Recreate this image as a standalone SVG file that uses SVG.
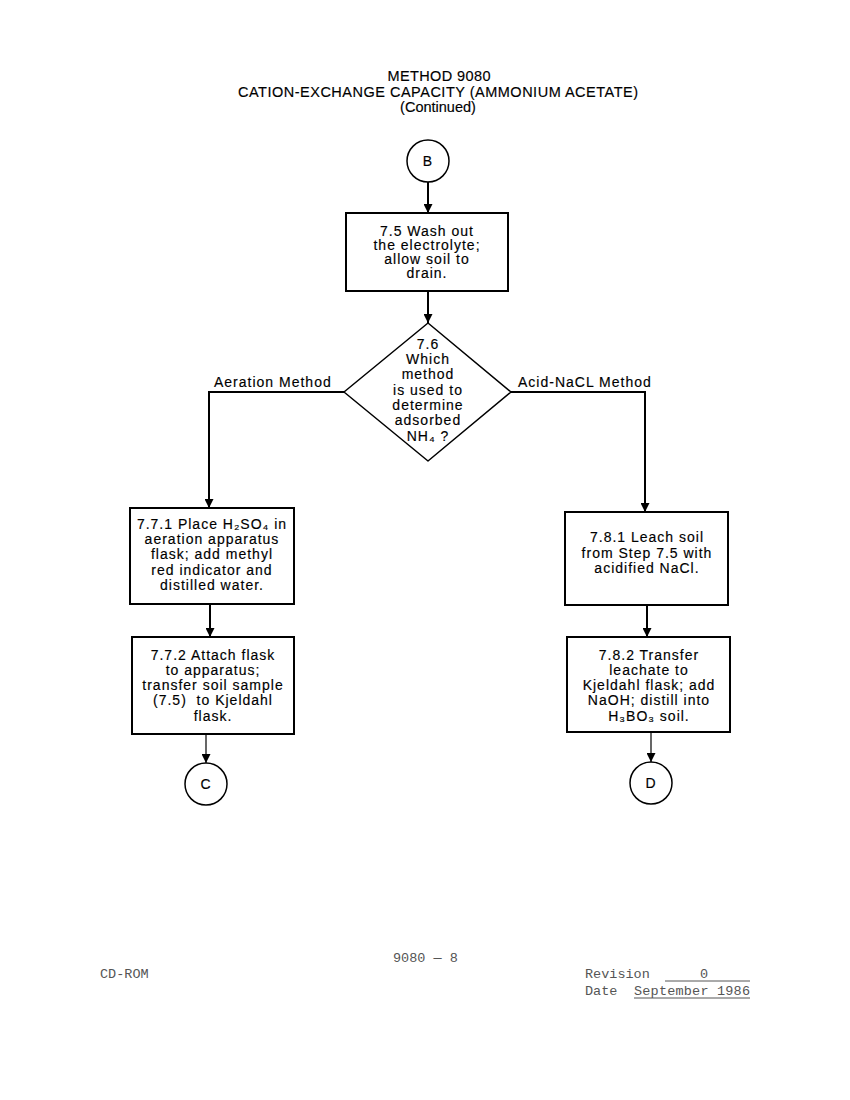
<svg xmlns="http://www.w3.org/2000/svg" width="850" height="1100" viewBox="0 0 850 1100">
<style>
.t{font-family:"Liberation Sans",Arial,"DejaVu Sans",sans-serif;font-size:14px;fill:#000;stroke:#000;stroke-width:0.15;text-anchor:middle;letter-spacing:1px}
.title{font-family:"Liberation Sans",Arial,sans-serif;font-size:14.5px;fill:#000;stroke:#000;stroke-width:0.15;text-anchor:middle}
.lbl{font-family:"Liberation Sans",Arial,sans-serif;font-size:14px;fill:#000;stroke:#000;stroke-width:0.15;letter-spacing:1px}
.box{fill:#fff;stroke:#000;stroke-width:2}
.circ{fill:#fff;stroke:#000;stroke-width:1.5}
.con{fill:none;stroke:#000;stroke-width:2}
.thin{fill:none;stroke:#000;stroke-width:1.2}
.foot{font-family:"Liberation Mono","Courier New",monospace;font-size:13.5px;fill:#555}
</style>
<defs>
<marker id="arr" viewBox="0 0 10 10" refX="10" refY="5" markerWidth="9" markerHeight="9" markerUnits="userSpaceOnUse" orient="auto">
<path d="M0,0 L10,5 L0,10 z" fill="#000"/>
</marker>
</defs>
<rect width="850" height="1100" fill="#fff"/>

<g id="title">
<text class="title" x="439" y="81" textLength="103">METHOD 9080</text>
<text class="title" x="438" y="97" textLength="400">CATION-EXCHANGE CAPACITY (AMMONIUM ACETATE)</text>
<text class="title" x="438" y="112">(Continued)</text>
</g>

<g id="connectors">
<line class="con" x1="428" y1="182" x2="428" y2="213" marker-end="url(#arr)"/>
<line class="con" x1="428" y1="291" x2="428" y2="323" marker-end="url(#arr)"/>
<polyline class="con" points="344,392 209,392 209,508" marker-end="url(#arr)"/>
<polyline class="con" points="511,392 645,392 645,512" marker-end="url(#arr)"/>
<line class="con" x1="210" y1="604" x2="210" y2="637" marker-end="url(#arr)"/>
<line class="con" x1="647" y1="605" x2="647" y2="637" marker-end="url(#arr)"/>
<line class="thin" x1="206" y1="734" x2="206" y2="763" marker-end="url(#arr)"/>
<line class="thin" x1="651" y1="732" x2="651" y2="762" marker-end="url(#arr)"/>
<text class="lbl" x="214" y="387">Aeration Method</text>
<text class="lbl" x="518" y="387">Acid-NaCL Method</text>
</g>

<g id="nodeB">
<circle class="circ" cx="428" cy="161" r="21"/>
<text class="t" x="428" y="166">B</text>
</g>

<g id="node75">
<rect class="box" x="346" y="213" width="162" height="78"/>
<text class="t" x="427" y="236">7.5 Wash out</text>
<text class="t" x="427" y="250">the electrolyte;</text>
<text class="t" x="427" y="264">allow soil to</text>
<text class="t" x="427" y="278">drain.</text>
</g>

<g id="node76">
<path d="M428,323 L511,392 L428,461 L344,392 Z" fill="#fff" stroke="#000" stroke-width="1.5" stroke-linejoin="round"/>
<text class="t" x="428" y="349">7.6</text>
<text class="t" x="428" y="364">Which</text>
<text class="t" x="428" y="379">method</text>
<text class="t" x="428" y="395">is used to</text>
<text class="t" x="428" y="410">determine</text>
<text class="t" x="428" y="425">adsorbed</text>
<text class="t" x="428" y="441">NH₄ ?</text>
</g>

<g id="node771">
<rect class="box" x="130" y="508" width="164" height="96"/>
<text class="t" x="212" y="529">7.7.1 Place H₂SO₄ in</text>
<text class="t" x="212" y="544">aeration apparatus</text>
<text class="t" x="212" y="559">flask; add methyl</text>
<text class="t" x="212" y="575">red indicator and</text>
<text class="t" x="212" y="590">distilled water.</text>
</g>

<g id="node772">
<rect class="box" x="132" y="637" width="162" height="97"/>
<text class="t" x="213" y="660">7.7.2 Attach flask</text>
<text class="t" x="213" y="675">to apparatus;</text>
<text class="t" x="213" y="690">transfer soil sample</text>
<text class="t" x="213" y="705" xml:space="preserve">(7.5)  to Kjeldahl</text>
<text class="t" x="213" y="721">flask.</text>
</g>

<g id="nodeC">
<circle class="circ" cx="206" cy="784" r="21"/>
<text class="t" x="206" y="789">C</text>
</g>

<g id="node781">
<rect class="box" x="565" y="512" width="163" height="93"/>
<text class="t" x="647" y="542">7.8.1 Leach soil</text>
<text class="t" x="647" y="558">from Step 7.5 with</text>
<text class="t" x="647" y="573">acidified NaCl.</text>
</g>

<g id="node782">
<rect class="box" x="567" y="637" width="163" height="95"/>
<text class="t" x="649" y="660">7.8.2 Transfer</text>
<text class="t" x="649" y="675">leachate to</text>
<text class="t" x="649" y="690">Kjeldahl flask; add</text>
<text class="t" x="649" y="705">NaOH; distill into</text>
<text class="t" x="649" y="721">H₃BO₃ soil.</text>
</g>

<g id="nodeD">
<circle class="circ" cx="651" cy="783" r="21"/>
<text class="t" x="651" y="788">D</text>
</g>

<g id="footer">
<text class="foot" x="393" y="962">9080 — 8</text>
<text class="foot" x="100" y="978">CD-ROM</text>
<text class="foot" x="585" y="978">Revision</text>
<line x1="665" y1="981" x2="750" y2="981" stroke="#555" stroke-width="1"/>
<text class="foot" x="704" y="978" text-anchor="middle">0</text>
<text class="foot" x="585" y="995">Date</text>
<text class="foot" x="634" y="995" textLength="116">September 1986</text>
<line x1="634" y1="998" x2="750" y2="998" stroke="#555" stroke-width="1"/>
</g>
</svg>
